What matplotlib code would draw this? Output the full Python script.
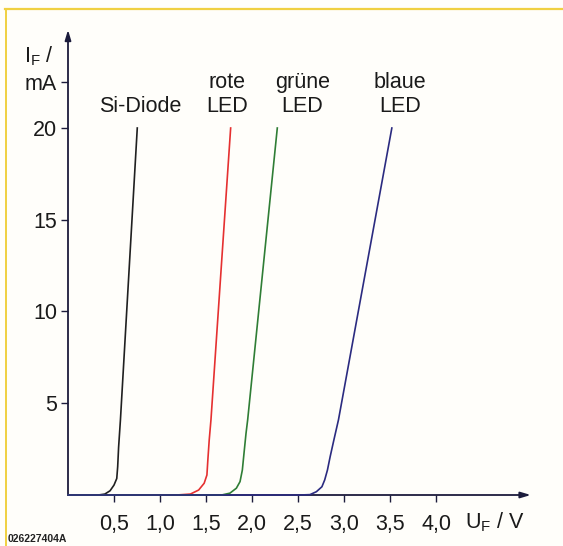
import matplotlib
matplotlib.use("Agg")
import matplotlib.pyplot as plt
from matplotlib.lines import Line2D

plt.rcParams['font.family'] = ['Liberation Sans', 'DejaVu Sans']
plt.rcParams['mathtext.fontset'] = 'custom'
plt.rcParams['mathtext.rm'] = 'Liberation Sans'
plt.rcParams['mathtext.it'] = 'Liberation Sans'

# Kennlinien (U in V, I in mA)
si_u = [0, 0.33, 0.40, 0.457, 0.50, 0.53, 0.54, 0.55, 0.57, 0.753]
si_i = [0, 0, 0.05, 0.23, 0.54, 0.9, 1.54, 2.6, 4.1, 20]

rot_u = [0, 1.18, 1.33, 1.42, 1.48, 1.51, 1.52, 1.535, 1.554, 1.768]
rot_i = [0, 0, 0.05, 0.27, 0.64, 1.09, 1.9, 3.0, 4.1, 20]

gruen_u = [0, 1.67, 1.76, 1.83, 1.87, 1.895, 1.913, 1.935, 1.953, 2.275]
gruen_i = [0, 0, 0.1, 0.37, 0.73, 1.36, 2.27, 3.36, 4.1, 20]

blau_u = [0, 2.52, 2.63, 2.70, 2.76, 2.79, 2.82, 2.85, 2.89, 2.94, 3.52]
blau_i = [0, 0, 0.02, 0.18, 0.45, 0.82, 1.36, 2.1, 3.0, 4.1, 20]

x_ticks = [0.5, 1.0, 1.5, 2.0, 2.5, 3.0, 3.5, 4.0]
x_labels = ['0,5', '1,0', '1,5', '2,0', '2,5', '3,0', '3,5', '4,0']
y_ticks = [5, 10, 15, 20, 22.5]
y_labels = ['5', '10', '15', '20', 'mA']

W, H = 563, 546
bg = '#fffefa'
achse = '#1c1c3c'

fig = plt.figure(figsize=(W / 100, H / 100), dpi=100, facecolor=bg)
ax = fig.add_axes([68 / W, (H - 495) / H, 5.1 * 92 / W, 25.6 * 18.35 / H])
ax.set_facecolor(bg)
ax.set_xlim(0, 5.1)
ax.set_ylim(0, 25.6)
for s in ax.spines.values():
    s.set_visible(False)

# Achsen mit Pfeilen
ax.annotate('', xy=(5.03, 0), xytext=(0, 0), annotation_clip=False,
            arrowprops=dict(arrowstyle='-|>,head_length=0.6,head_width=0.18',
                            color=achse, lw=1.3, shrinkA=0, shrinkB=0))
ax.annotate('', xy=(0, 25.35), xytext=(0, 0), annotation_clip=False,
            arrowprops=dict(arrowstyle='-|>,head_length=0.6,head_width=0.18',
                            color=achse, lw=1.3, shrinkA=0, shrinkB=0))

ax.set_xticks(x_ticks)
ax.set_xticklabels(x_labels)
ax.set_yticks(y_ticks)
ax.set_yticklabels(y_labels)
ax.tick_params(axis='x', direction='out', length=5, width=1, color=achse,
               labelsize=15.5, pad=9, labelcolor='#1a1a1a')
ax.tick_params(axis='y', direction='out', length=5, width=1, color=achse,
               labelsize=15.5, pad=3, labelcolor='#1a1a1a')

lw = 1.2
ax.plot(si_u, si_i, color='#202020', lw=lw, zorder=3, clip_on=False)
ax.plot(rot_u, rot_i, color='#e53030', lw=lw, zorder=3, clip_on=False)
ax.plot(gruen_u, gruen_i, color='#2f7d35', lw=lw, zorder=3, clip_on=False)
ax.plot(blau_u, blau_i, color='#2b2b80', lw=lw, zorder=4, clip_on=False)

fs = 15.5
tc = '#1a1a1a'
ax.text(0.78, 21.15, 'Si-Diode', ha='center', va='center', fontsize=fs, color=tc)
ax.text(1.73, 22.5, 'rote', ha='center', va='center', fontsize=fs, color=tc)
ax.text(1.73, 21.15, 'LED', ha='center', va='center', fontsize=fs, color=tc)
ax.text(2.55, 22.5, 'grüne', ha='center', va='center', fontsize=fs, color=tc)
ax.text(2.55, 21.15, 'LED', ha='center', va='center', fontsize=fs, color=tc)
ax.text(3.61, 22.5, 'blaue', ha='center', va='center', fontsize=fs, color=tc)
ax.text(3.61, 21.15, 'LED', ha='center', va='center', fontsize=fs, color=tc)

ax.text(-0.155, 23.9, r'I$_{\mathrm{F}}$ /', ha='right', va='center',
        fontsize=fs, color=tc, clip_on=False)
ax.text(4.315, -1.5, r'U$_{\mathrm{F}}$ / V', ha='left', va='center',
        fontsize=fs, color=tc, clip_on=False)

fig.text(8 / W, 1 - 539 / H, '026227404A', ha='left', va='center',
         fontsize=7.5, fontweight='bold', color='#222222')

# gelber Rahmen oben und links
gelb = '#f0d040'
fig.add_artist(Line2D([5 / W, 1], [1 - 9 / H, 1 - 9 / H], color=gelb, lw=1.6))
fig.add_artist(Line2D([5.5 / W, 5.5 / W], [0, 1 - 9 / H], color=gelb, lw=1.4))

fig.savefig('out.png', dpi=100, facecolor=bg)
